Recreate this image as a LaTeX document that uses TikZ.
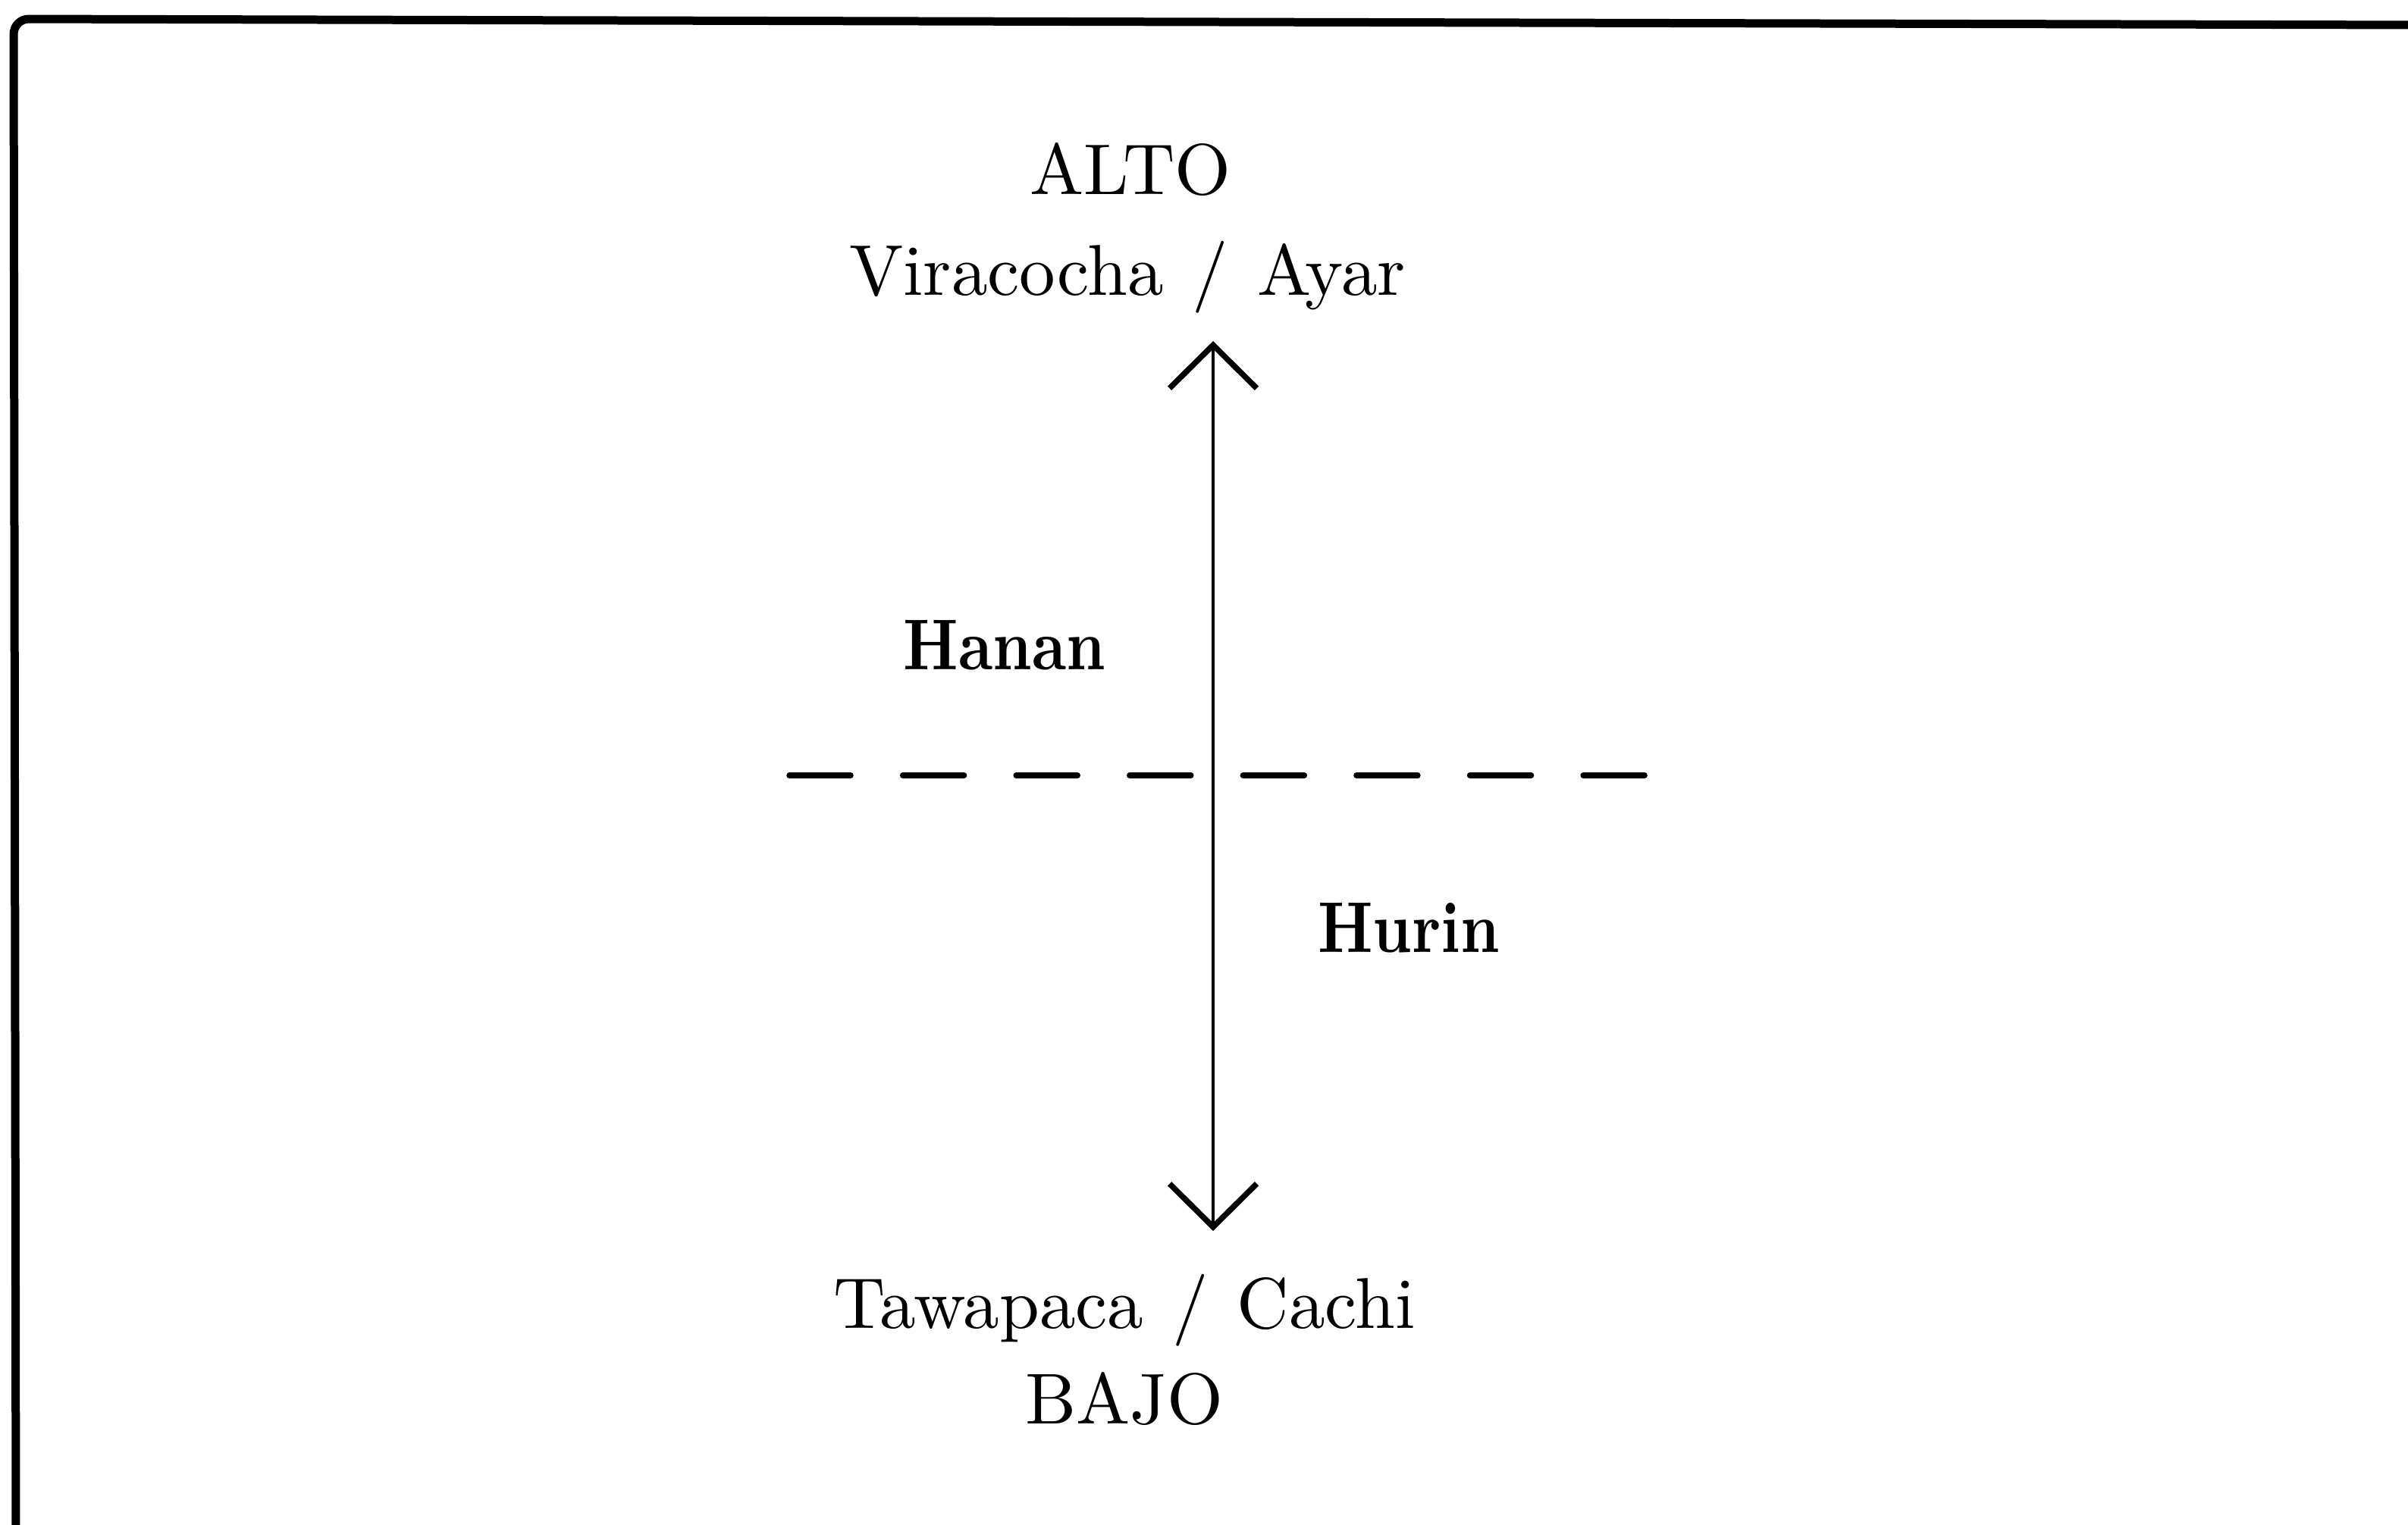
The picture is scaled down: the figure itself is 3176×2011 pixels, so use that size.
\documentclass[tikz,border=0pt]{standalone}
\usepackage{fontspec}
\usetikzlibrary{arrows.meta}
\begin{document}
\begin{tikzpicture}[x=0.1pt,y=-0.1pt,
  lbl/.style={anchor=base,inner sep=0pt,font=\fontsize{9.5}{11}\selectfont\addfontfeature{LetterSpace=2}},
  blbl/.style={anchor=base,inner sep=0pt,font=\fontsize{9.5}{11}\selectfont\bfseries},
  frame/.style={line width=1.1pt,rounded corners=2pt},
  axis/.style={line width=0.45pt,{Straight Barb[length=5.7pt,width=11.5pt,line width=0.75pt]}-{Straight Barb[length=5.7pt,width=11.5pt,line width=0.75pt]}},
  divider/.style={line width=0.75pt,line cap=round,dash pattern=on 8.1pt off 6.86pt}]
\useasboundingbox (0,0) rectangle (3176,2011);
% frame
\coordinate (fr) at (3190,33);
\coordinate (fc) at (18,25);
\coordinate (fb) at (21,2030);
\draw[frame] (fr) -- (fc) -- (fb);
% texts
\node[lbl] (alto) at (1491,257) {ALTO};
\node[lbl] (vir) at (1487,389) {Viracocha\hspace{3.8pt}/\hspace{3.8pt}Ayar};
\node[blbl] (hanan) at (1325,883) {\scalebox{0.85}[1]{Hanan}};
\node[blbl] (hurin) at (1858,1256) {\scalebox{0.85}[1]{Hurin}};
\node[lbl] (taw) at (1483,1752) {Tawapaca\hspace{3.8pt}/\hspace{3.8pt}Cachi};
\node[lbl] (bajo) at (1483,1878) {BAJO};
% axis
\coordinate (top) at (1600,450);
\coordinate (bot) at (1600,1624);
\draw[axis] (top) -- (bot);
% divider
\coordinate (dl) at (1041,1023);
\coordinate (dr) at (2173,1023);
\draw[divider] (dl) -- (dr);
\end{tikzpicture}
\end{document}
